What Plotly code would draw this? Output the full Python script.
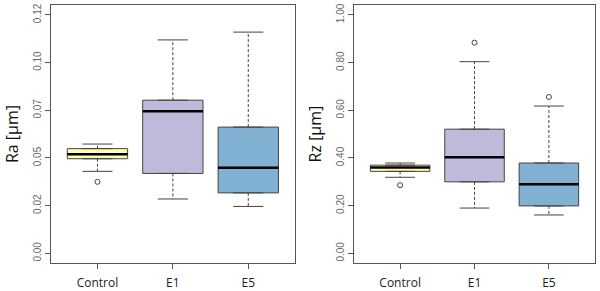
import plotly.graph_objects as go

categories = ["Control", "E1", "E5"]
colors = ["#FFFFB3", "#BEBADA", "#80B1D3"]

ra_lower = [0.0430, 0.0285, 0.0246]
ra_q1 = [0.0496, 0.0419, 0.0317]
ra_median = [0.0520, 0.0745, 0.0449]
ra_q3 = [0.0549, 0.0803, 0.0662]
ra_upper = [0.0573, 0.1119, 0.1160]
ra_out_x = [1]
ra_out_y = [0.0375]
ra_tickvals = [0, 0.025, 0.05, 0.075, 0.1, 0.125]
ra_ticktext = ["0.00", "0.02", "0.05", "0.07", "0.10", "0.12"]

rz_lower = [0.319, 0.190, 0.161]
rz_q1 = [0.344, 0.300, 0.199]
rz_median = [0.360, 0.403, 0.290]
rz_q3 = [0.370, 0.521, 0.379]
rz_upper = [0.379, 0.804, 0.618]
rz_out_x = [1, 2, 3]
rz_out_y = [0.286, 0.884, 0.656]
rz_tickvals = [0, 0.2, 0.4, 0.6, 0.8, 1.0]
rz_ticktext = ["0.00", "0.20", "0.40", "0.60", "0.80", "1.00"]

FONT = "Open Sans"
GRAY = "#555555"
fig = go.Figure()


def add_panel(lower, q1, med, q3, upper, ox, oy, xa, ya):
    for i, c in enumerate(categories):
        xpos = i + 1
        fig.add_trace(go.Box(
            x=[xpos], q1=[q1[i]], median=[med[i]], q3=[q3[i]],
            lowerfence=[q1[i]], upperfence=[q3[i]], width=0.8,
            fillcolor=colors[i], line=dict(color="#444444", width=1),
            boxpoints=False, showlegend=False, xaxis=xa, yaxis=ya,
            hoverinfo="skip"))
    wx, wy, cx, cy, mx, my = [], [], [], [], [], []
    for i in range(len(categories)):
        xpos = i + 1
        wx += [xpos, xpos, None, xpos, xpos, None]
        wy += [q3[i], upper[i], None, q1[i], lower[i], None]
        cx += [xpos - 0.2, xpos + 0.2, None, xpos - 0.2, xpos + 0.2, None]
        cy += [upper[i], upper[i], None, lower[i], lower[i], None]
        mx += [xpos - 0.4, xpos + 0.4, None]
        my += [med[i], med[i], None]
    fig.add_trace(go.Scatter(x=wx, y=wy, mode="lines",
                             line=dict(color="#444444", width=1, dash="3px,2px"),
                             showlegend=False, xaxis=xa, yaxis=ya, hoverinfo="skip"))
    fig.add_trace(go.Scatter(x=cx, y=cy, mode="lines",
                             line=dict(color="#444444", width=1),
                             showlegend=False, xaxis=xa, yaxis=ya, hoverinfo="skip"))
    fig.add_trace(go.Scatter(x=mx, y=my, mode="lines",
                             line=dict(color="#000000", width=2.5),
                             showlegend=False, xaxis=xa, yaxis=ya, hoverinfo="skip"))
    fig.add_trace(go.Scatter(x=ox, y=oy, mode="markers",
                             marker=dict(symbol="circle-open", size=5,
                                         color="#444444", line=dict(width=1)),
                             showlegend=False, xaxis=xa, yaxis=ya, hoverinfo="skip"))


add_panel(ra_lower, ra_q1, ra_median, ra_q3, ra_upper, ra_out_x, ra_out_y, "x", "y")
add_panel(rz_lower, rz_q1, rz_median, rz_q3, rz_upper, rz_out_x, rz_out_y, "x2", "y2")

xcommon = dict(range=[0.38, 3.62], tickvals=[1, 2, 3], ticktext=categories,
               showline=True, mirror=True, linecolor=GRAY, linewidth=1,
               ticks="outside", ticklen=5, tickcolor=GRAY, showgrid=False,
               zeroline=False, ticklabelstandoff=4,
               tickfont=dict(family=FONT, size=12, color="#222222"))
ycommon = dict(showline=True, mirror=True, linecolor=GRAY, linewidth=1,
               ticks="outside", ticklen=5, tickcolor=GRAY, showgrid=False,
               zeroline=False, tickangle=-90,
               tickfont=dict(family="Liberation Sans", size=10, color="#666666"))

fig.update_layout(
    width=600, height=291, margin=dict(l=0, r=0, t=0, b=0),
    paper_bgcolor="white", plot_bgcolor="white",
    xaxis=dict(domain=[0.0845, 0.4917], anchor="y", **xcommon),
    xaxis2=dict(domain=[0.590, 0.9917], anchor="y2", **xcommon),
    yaxis=dict(domain=[0.0814, 0.9887], anchor="x", range=[-0.005, 0.1301],
               tickvals=ra_tickvals, ticktext=ra_ticktext,
               title=dict(text="Ra [µm]", standoff=9,
                          font=dict(family=FONT, size=16, color="#111111")),
               **ycommon),
    yaxis2=dict(domain=[0.0814, 0.9887], anchor="x2", range=[-0.04, 1.041],
                tickvals=rz_tickvals, ticktext=rz_ticktext,
                title=dict(text="Rz [µm]", standoff=9,
                           font=dict(family=FONT, size=16, color="#111111")),
                **ycommon),
)

fig.write_html("out.html")
